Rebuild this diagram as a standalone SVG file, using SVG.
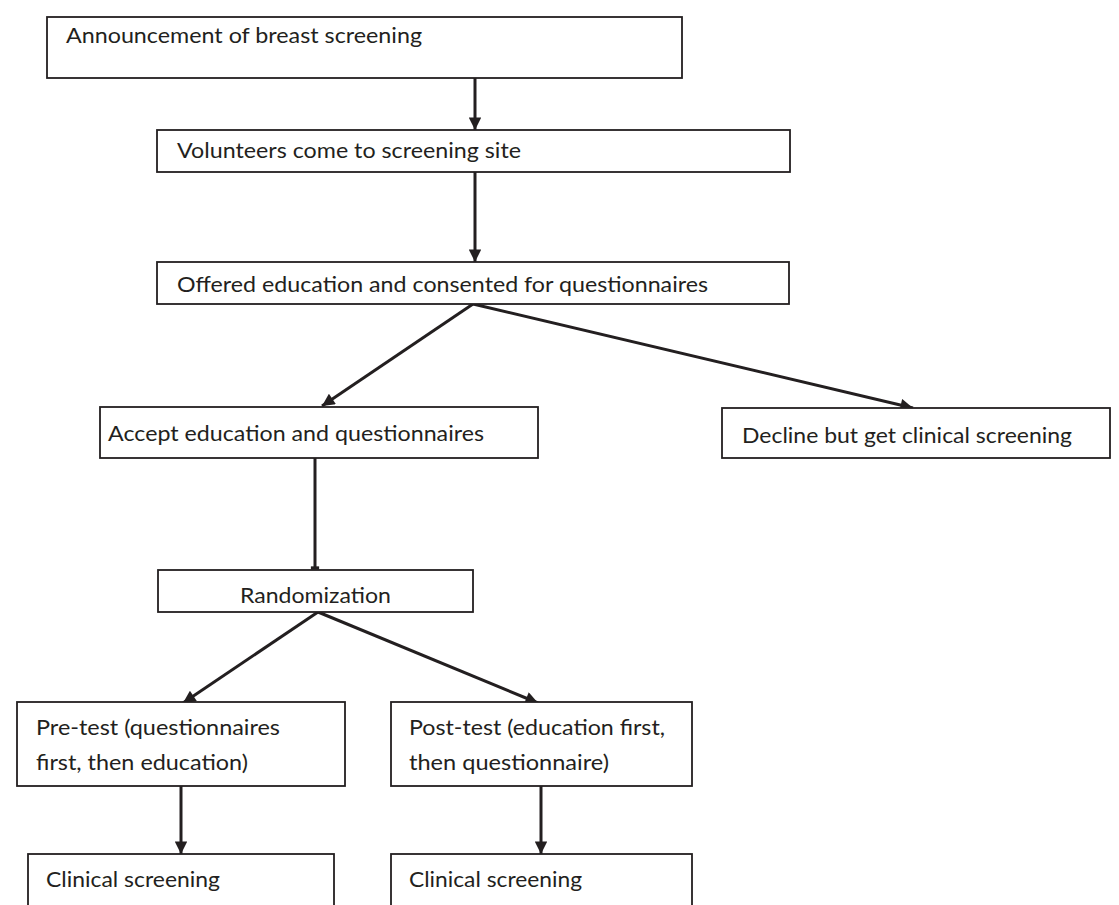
<svg xmlns="http://www.w3.org/2000/svg" width="1119" height="905" viewBox="0 0 1119 905">
<style>
.box{fill:#fff;stroke:#231f20;stroke-width:1.8}
.t{font-family:Lato,"Liberation Sans",sans-serif;font-size:22px;fill:#231f20}
.c{stroke:#231f20;stroke-width:3;fill:none}
</style>
<defs>
<marker id="ah" viewBox="0 0 10 10" refX="10" refY="5" markerWidth="4.8" markerHeight="4.2" markerUnits="strokeWidth" orient="auto">
<path d="M0,0 L10,5 L0,10 Z" fill="#231f20"/>
</marker>
<marker id="tee" viewBox="0 0 4 10" refX="2" refY="5" markerWidth="1.1" markerHeight="4.2" markerUnits="strokeWidth" orient="auto">
<rect x="0" y="0" width="4" height="10" fill="#231f20"/>
</marker>
</defs>
<rect width="1119" height="905" fill="#fff"/>
<g id="connectors">
<line class="c" x1="475" y1="78" x2="475" y2="130" marker-end="url(#ah)"/>
<line class="c" x1="475" y1="172" x2="475" y2="262" marker-end="url(#ah)"/>
<line class="c" x1="473" y1="304" x2="322" y2="406" marker-end="url(#ah)"/>
<line class="c" x1="473" y1="304" x2="913" y2="408" marker-end="url(#ah)"/>
<line class="c" x1="315" y1="458" x2="315" y2="568" marker-end="url(#tee)"/>
<line class="c" x1="318" y1="612" x2="183" y2="703" marker-end="url(#ah)"/>
<line class="c" x1="318" y1="612" x2="538" y2="703" marker-end="url(#ah)"/>
<line class="c" x1="181" y1="786" x2="181" y2="854" marker-end="url(#ah)"/>
<line class="c" x1="541" y1="786" x2="541" y2="854" marker-end="url(#ah)"/>
</g>
<g id="n1"><rect class="box" x="47" y="17" width="635" height="61"/><text class="t" x="66" y="43" textLength="356" lengthAdjust="spacingAndGlyphs">Announcement of breast screening</text></g>
<g id="n2"><rect class="box" x="157" y="130" width="633" height="42"/><text class="t" x="177" y="158" textLength="344" lengthAdjust="spacingAndGlyphs">Volunteers come to screening site</text></g>
<g id="n3"><rect class="box" x="157" y="262" width="632" height="42"/><text class="t" x="177" y="292" textLength="531" lengthAdjust="spacingAndGlyphs">Offered education and consented for questionnaires</text></g>
<g id="n4"><rect class="box" x="100" y="407" width="438" height="51"/><text class="t" x="108" y="441" textLength="376" lengthAdjust="spacingAndGlyphs">Accept education and questionnaires</text></g>
<g id="n5"><rect class="box" x="722" y="408" width="388" height="50"/><text class="t" x="742" y="443" textLength="330" lengthAdjust="spacingAndGlyphs">Decline but get clinical screening</text></g>
<g id="n6"><rect class="box" x="158" y="570" width="315" height="42"/><text class="t" x="240" y="603" textLength="151" lengthAdjust="spacingAndGlyphs">Randomization</text></g>
<g id="n7"><rect class="box" x="17" y="702" width="328" height="84"/><text class="t" x="36" y="735" textLength="244" lengthAdjust="spacingAndGlyphs">Pre-test (questionnaires</text><text class="t" x="36" y="770" textLength="212" lengthAdjust="spacingAndGlyphs">first, then education)</text></g>
<g id="n8"><rect class="box" x="391" y="702" width="301" height="84"/><text class="t" x="409" y="735" textLength="256" lengthAdjust="spacingAndGlyphs">Post-test (education first,</text><text class="t" x="409" y="770" textLength="200" lengthAdjust="spacingAndGlyphs">then questionnaire)</text></g>
<g id="n9"><rect class="box" x="28" y="854" width="306" height="64"/><text class="t" x="46" y="887" textLength="174" lengthAdjust="spacingAndGlyphs">Clinical screening</text></g>
<g id="n10"><rect class="box" x="391" y="854" width="301" height="64"/><text class="t" x="409" y="887" textLength="173" lengthAdjust="spacingAndGlyphs">Clinical screening</text></g>
</svg>
